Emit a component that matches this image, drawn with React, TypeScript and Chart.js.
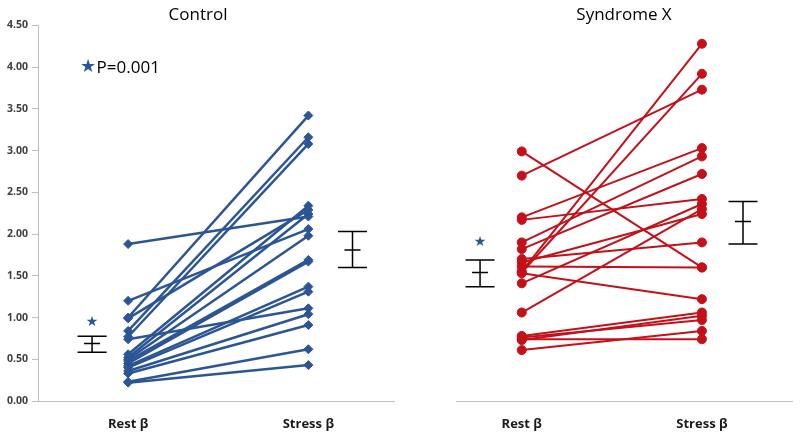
import React, { useEffect, useRef } from "react";
import { Chart, registerables } from "chart.js";
Chart.register(...registerables);
Chart.defaults.font.family = "'Open Sans', 'Liberation Sans', sans-serif";

// ---------- data ----------
const categories = ["Rest β", "Stress β"];
const categoryX = [1, 3];
const yTickStep = 0.5;
const yMin = 0;
const yMax = 4.5;

const controlRest = [1.88, 1.2, 1.0, 0.99, 0.84, 0.77, 0.74, 0.56, 0.52, 0.5, 0.48, 0.45, 0.42, 0.4, 0.36, 0.33, 0.23, 0.22];
const controlStress = [2.21, 2.06, 3.42, 2.29, 3.16, 3.08, 1.11, 2.34, 2.24, 1.98, 1.69, 1.67, 1.37, 1.31, 1.04, 0.91, 0.62, 0.43];

const syndromeRest = [2.99, 2.7, 2.2, 2.17, 1.9, 1.82, 1.7, 1.66, 1.61, 1.55, 1.54, 1.53, 1.41, 1.06, 0.78, 0.76, 0.74, 0.73, 0.61];
const syndromeStress = [1.6, 3.73, 3.03, 2.42, 2.93, 2.72, 1.9, 2.24, 1.6, 4.28, 3.92, 1.22, 2.36, 2.3, 1.06, 0.97, 0.74, 1.02, 0.84];

// mean ± SE bars (x position, low, mean, high)
const controlBarX = [0.6, 3.49];
const controlLow = [0.585, 1.6];
const controlMean = [0.69, 1.81];
const controlHigh = [0.776, 2.03];
const syndromeBarX = [0.537, 3.456];
const syndromeLow = [1.37, 1.88];
const syndromeMean = [1.54, 2.15];
const syndromeHigh = [1.69, 2.39];

// significance stars
const controlStarX = [0.6];
const controlStarY = [0.94];
const syndromeStarX = [0.537];
const syndromeStarY = [1.9];
const pValueText = "P=0.001";
const pStarX = 0.556;
const pTextX = 0.65;
const pY = 4.0;

// ---------- styles ----------
const BLUE = "#2B5594";
const RED = "#C41019";
const AXIS = "#BFBFBF";

type Spec = {
  barX: number[];
  low: number[];
  mean: number[];
  high: number[];
  starX: number[];
  starY: number[];
  pText?: boolean;
};

function makeOverlay(spec: Spec) {
  return {
    id: "overlay",
    afterDatasetsDraw(chart: any) {
      const { ctx } = chart;
      const x = chart.scales.x;
      const y = chart.scales.y;
      ctx.save();
      ctx.strokeStyle = "#000";
      ctx.lineWidth = 1.5;
      spec.barX.forEach((bx, i) => {
        const px = x.getPixelForValue(bx);
        const yl = y.getPixelForValue(spec.low[i]);
        const yh = y.getPixelForValue(spec.high[i]);
        const ym = y.getPixelForValue(spec.mean[i]);
        ctx.beginPath();
        ctx.moveTo(px, yl);
        ctx.lineTo(px, yh);
        ctx.moveTo(px - 14.5, yl);
        ctx.lineTo(px + 14.5, yl);
        ctx.moveTo(px - 14.5, yh);
        ctx.lineTo(px + 14.5, yh);
        ctx.moveTo(px - 8, ym);
        ctx.lineTo(px + 8, ym);
        ctx.stroke();
      });
      ctx.fillStyle = BLUE;
      ctx.textAlign = "center";
      ctx.textBaseline = "middle";
      ctx.font = "14px 'DejaVu Sans'";
      spec.starX.forEach((sx, i) => {
        ctx.fillText("★", x.getPixelForValue(sx), y.getPixelForValue(spec.starY[i]));
      });
      if (spec.pText) {
        ctx.font = "18px 'DejaVu Sans'";
        ctx.fillText("★", x.getPixelForValue(pStarX), y.getPixelForValue(pY));
        ctx.fillStyle = "#000";
        ctx.textAlign = "left";
        ctx.font = "17px 'Open Sans'";
        ctx.fillText(pValueText, x.getPixelForValue(pTextX), y.getPixelForValue(pY) + 1);
      }
      ctx.restore();
    },
  };
}

function pairDatasets(rest: number[], stress: number[], color: string, style: string, radius: number, width: number) {
  return rest.map((r, i) => ({
    data: [
      { x: categoryX[0], y: r },
      { x: categoryX[1], y: stress[i] },
    ],
    showLine: true,
    borderColor: color,
    backgroundColor: color,
    pointBackgroundColor: color,
    pointBorderColor: color,
    pointStyle: style,
    pointRadius: radius,
    pointBorderWidth: 1,
    borderWidth: width,
  }));
}

function makeConfig(opts: {
  title: string;
  datasets: any[];
  showY: boolean;
  xMin: number;
  xMax: number;
  padLeft: number;
  padRight: number;
  spec: Spec;
}) {
  return {
    type: "scatter" as const,
    data: { datasets: opts.datasets },
    plugins: [makeOverlay(opts.spec)],
    options: {
      responsive: false,
      animation: false as const,
      devicePixelRatio: 1,
      layout: { padding: { top: 0, bottom: 0, left: opts.padLeft, right: opts.padRight } },
      plugins: {
        legend: { display: false },
        tooltip: { enabled: false },
        title: {
          display: true,
          text: opts.title,
          color: "#000",
          font: { size: 17, weight: "normal" as const },
          padding: { top: 5, bottom: 0 },
        },
      },
      scales: {
        x: {
          type: "linear" as const,
          min: opts.xMin,
          max: opts.xMax,
          grid: { display: false, drawTicks: false },
          border: { display: true, color: AXIS, width: 1 },
          afterBuildTicks: (scale: any) => {
            scale.ticks = categoryX.map((v) => ({ value: v }));
          },
          afterFit: (scale: any) => {
            scale.height = 35;
          },
          ticks: {
            padding: 15,
            color: "#1a1a1a",
            font: { size: 13, weight: "bold" as const },
            maxRotation: 0,
            autoSkip: false,
            callback: (v: number) => {
              const idx = categoryX.indexOf(v);
              return idx >= 0 ? categories[idx] : "";
            },
          },
        },
        y: {
          display: opts.showY,
          min: yMin,
          max: yMax,
          grid: { drawOnChartArea: false, drawTicks: true, tickLength: 6, color: AXIS },
          border: { display: true, color: AXIS, width: 1 },
          afterFit: (scale: any) => {
            scale.width = opts.showY ? 38 : 0;
          },
          ticks: {
            stepSize: yTickStep,
            padding: 4,
            color: "#404040",
            font: { size: 10.5, weight: "bold" as const },
            callback: (v: number) => Number(v).toFixed(2),
          },
        },
      },
    },
  };
}

function ChartPanel({ config }: { config: any }) {
  const ref = useRef<HTMLCanvasElement | null>(null);
  useEffect(() => {
    if (!ref.current) return;
    const chart = new Chart(ref.current, config);
    return () => chart.destroy();
  }, [config]);
  return <canvas ref={ref} width={400} height={436} style={{ display: "block", width: 400, height: 436 }} />;
}

const controlConfig = makeConfig({
  title: "Control",
  datasets: pairDatasets(controlRest, controlStress, BLUE, "rectRot", 4.5, 2.5),
  showY: true,
  xMin: 0,
  xMax: 3.956,
  padLeft: 0,
  padRight: 4,
  spec: {
    barX: controlBarX,
    low: controlLow,
    mean: controlMean,
    high: controlHigh,
    starX: controlStarX,
    starY: controlStarY,
    pText: true,
  },
});

const syndromeConfig = makeConfig({
  title: "Syndrome X",
  datasets: pairDatasets(syndromeRest, syndromeStress, RED, "circle", 4.5, 2),
  showY: false,
  xMin: 0.27,
  xMax: 4.0,
  padLeft: 56,
  padRight: 8,
  spec: {
    barX: syndromeBarX,
    low: syndromeLow,
    mean: syndromeMean,
    high: syndromeHigh,
    starX: syndromeStarX,
    starY: syndromeStarY,
  },
});

export default function App() {
  return (
    <div style={{ position: "fixed", left: 0, top: 0, width: 800, height: 436, display: "flex", background: "#fff" }}>
      <ChartPanel config={controlConfig} />
      <ChartPanel config={syndromeConfig} />
    </div>
  );
}
